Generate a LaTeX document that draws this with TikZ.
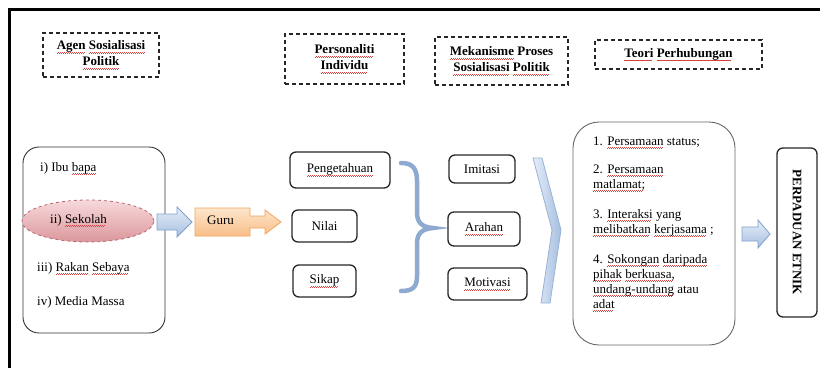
\documentclass[tikz,border=0pt]{standalone}
\usepackage{fontspec}
\setmainfont{Liberation Serif}
\usetikzlibrary{shapes.geometric}
\definecolor{sqred}{HTML}{D84040}
\newcommand\sq[1]{\setbox0\hbox{#1}\leavevmode\rlap{\color{sqred}\leaders\hbox{\rule[-3.6pt]{1pt}{0.5pt}\rule[-2.9pt]{1pt}{0.5pt}}\hskip\wd0}\box0\relax}
\definecolor{bluedge}{HTML}{7F9FCF}
\definecolor{bluelt}{HTML}{E6EEF8}
\definecolor{bluedk}{HTML}{A6BFE0}
\definecolor{bracec}{HTML}{8EAAD0}
\definecolor{orlt}{HTML}{FDE6CC}
\definecolor{ordk}{HTML}{F8BE88}
\definecolor{oredge}{HTML}{F0A560}
\definecolor{pklt}{HTML}{F7D9DB}
\definecolor{pkdk}{HTML}{DB979C}
\definecolor{pkedge}{HTML}{B8686E}
\tikzset{
  txt/.style={font=\fontsize{13}{15}\selectfont, inner sep=0pt, text height=9pt, text depth=3pt},
  head/.style={draw=black!85, line width=1.4pt, dash pattern=on 4pt off 3pt, font=\fontsize{13}{15}\selectfont\bfseries, align=center, inner sep=0pt},
  rbox/.style={draw=black!85, line width=1.3pt, rounded corners=6pt, font=\fontsize{13}{15}\selectfont, inner sep=0pt},
  bigbox/.style={draw=black!80, line width=0.9pt, inner sep=0pt},
}
\begin{document}
\begin{tikzpicture}[x=1pt,y=-1pt]
\useasboundingbox (0,0) rectangle (820,368);
% frame
\draw[line width=3pt] (9,368) -- (9,9) -- (830,9);
% headings
\node[head, minimum width=116pt, minimum height=44pt] (agen) at (101,55) {\sq{Agen} \sq{Sosialisasi}\\[1pt]\sq{Politik}};
\node[head, minimum width=119pt, minimum height=50pt] (pers) at (344.5,59) {\sq{Personaliti}\\[1pt]\sq{Individu}};
\node[head, minimum width=133pt, minimum height=48pt] (mek) at (501.5,61) {\sq{Mekanisme} Proses\\[1pt]\sq{Sosialisasi} \sq{Politik}};
\node[head, minimum width=167pt, minimum height=29pt] (teori) at (678.5,54.5) {\sq{Teori} \sq{Perhubungan}};
% left box
\node[bigbox, rounded corners=16pt, minimum width=142pt, minimum height=186pt] (agents) at (94,240) {};
\node[txt, anchor=west] (ibu) at (40,168) {i) Ibu \sq{bapa}};
\node[ellipse, minimum width=132pt, minimum height=42pt, top color=pklt, bottom color=pkdk, draw=pkedge, dashed, line width=0.8pt] (sekolahbg) at (88,221) {};
\node[txt, anchor=west] (sekolah) at (50,220) {ii) \sq{Sekolah}};
\node[txt, anchor=west] (rakan) at (37,268) {iii) \sq{Rakan} \sq{Sebaya}};
\node[txt, anchor=west] (media) at (37,302) {iv) Media Massa};
% blue arrow 1
\draw[bluedge, line width=0.8pt, top color=bluelt, bottom color=bluedk]
  (157,214) -- (177,214) -- (177,207) -- (192,222) -- (177,237) -- (177,230) -- (157,230) -- cycle;
% Guru arrow
\draw[oredge, line width=0.8pt, top color=orlt, bottom color=ordk]
  (195,208) -- (250,208) -- (250,216) -- (265,216) -- (265,210) -- (281,222) -- (265,234) -- (265,228) -- (250,228) -- (250,236) -- (195,236) -- cycle;
\node[txt, anchor=west] (guru) at (207,221) {Guru};
% personaliti boxes
\node[rbox, minimum width=100pt, minimum height=36pt] (peng) at (340,170) {\sq{Pengetahuan}};
\node[rbox, minimum width=65pt, minimum height=32pt] (nilai) at (324.5,226) {Nilai};
\node[rbox, minimum width=63pt, minimum height=32pt] (sikap) at (324.5,281) {\sq{Sikap}};
% brace
\draw[bracec, line width=4.5pt, line cap=round]
  (401,163) .. controls (413,163) and (417,169) .. (417,181) -- (417,212)
  .. controls (417,222) and (421,227) .. (433,228)
  .. controls (421,229) and (417,234) .. (417,244) -- (417,276)
  .. controls (417,287) and (413,291) .. (401,291);
% mekanisme boxes
\node[rbox, minimum width=66pt, minimum height=28pt] (imit) at (482,169) {Imitasi};
\node[rbox, minimum width=72pt, minimum height=34pt] (arah) at (484,229) {\sq{Arahan}};
\node[rbox, minimum width=79pt, minimum height=32pt] (moti) at (487.5,284) {\sq{Motivasi}};
% chevron
\draw[bluedge!80, line width=0.8pt, left color=bluelt, right color=bluedk]
  (533,158) -- (542,158) -- (561,230) -- (550,303) -- (541,303) -- (552,230) -- cycle;
% theory box
\node[bigbox, draw=black!60, rounded corners=26pt, minimum width=162pt, minimum height=223pt] (teoribox) at (654,233.5) {};
\node[txt, anchor=west] (t1) at (593,142) {1. \sq{Persamaan} status;};
\node[txt, anchor=west] (t2a) at (593,170) {2. \sq{Persamaan}};
\node[txt, anchor=west] (t2b) at (593,185) {\sq{matlamat;}};
\node[txt, anchor=west] (t3a) at (593,215) {3. \sq{Interaksi} yang};
\node[txt, anchor=west] (t3b) at (593,230) {\sq{melibatkan} \sq{kerjasama} ;};
\node[txt, anchor=west] (t4a) at (593,260) {4. \sq{Sokongan} \sq{daripada}};
\node[txt, anchor=west] (t4b) at (593,275) {\sq{pihak} \sq{berkuasa,}};
\node[txt, anchor=west] (t4c) at (593,290) {\sq{undang-undang} atau};
\node[txt, anchor=west] (t4d) at (593,305) {\sq{adat}};
% blue arrow 2
\draw[bluedge, line width=0.8pt, top color=bluelt, bottom color=bluedk]
  (742,227) -- (758,227) -- (758,220) -- (770,234) -- (758,248) -- (758,241) -- (742,241) -- cycle;
% result
\node[rbox, minimum width=40pt, minimum height=169pt] (hasil) at (797,232.5) {};
\node[font=\fontsize{13}{15}\selectfont\bfseries, rotate=-90, inner sep=0pt] (hasiltxt) at (hasil.center) {PERPADUAN ETNIK};
\end{tikzpicture}
\end{document}
